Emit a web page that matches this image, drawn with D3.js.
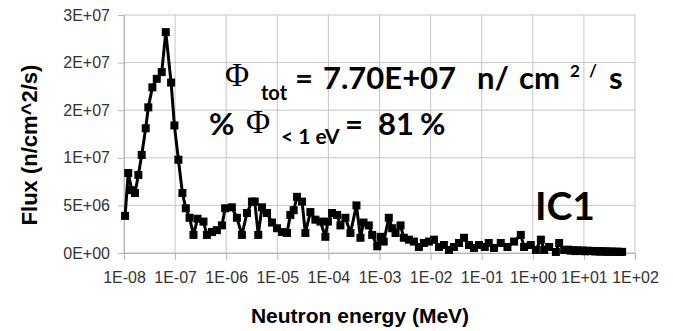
<!DOCTYPE html>
<html>
<head>
<meta charset="utf-8">
<script src="https://cdn.jsdelivr.net/npm/d3@7"></script>
<style>
  body { margin: 0; background: #fff; }
  svg { display: block; }
</style>
</head>
<body>
<div id="chart"></div>
<script>
// neutron spectrum, IC1 position
const energy = [
  1.05e-8, 1.21e-8, 1.42e-8, 1.64e-8, 1.91e-8, 2.22e-8, 2.66e-8, 2.99e-8, 3.59e-8, 4.38e-8,
  5.48e-8, 6.57e-8, 8.35e-8, 9.69e-8, 1.16e-7, 1.39e-7, 1.62e-7, 1.92e-7, 2.29e-7, 2.75e-7,
  3.59e-7, 4.19e-7, 5.25e-7, 6.57e-7, 8.24e-7, 9.56e-7, 1.29e-6, 1.62e-6, 2.03e-6, 2.55e-6,
  3.19e-6, 3.62e-6, 4.24e-6, 5.01e-6, 6.28e-6, 7.87e-6, 9.86e-6, 1.24e-5, 1.55e-5, 1.80e-5,
  2.09e-5, 2.43e-5, 3.05e-5, 3.54e-5, 4.44e-5, 5.56e-5, 6.97e-5, 8.73e-5, 9.78e-5, 1.18e-4,
  1.48e-4, 1.72e-4, 2.15e-4, 2.70e-4, 3.54e-4, 4.24e-4, 4.86e-4, 6.17e-4, 7.19e-4, 9.02e-4,
  1.05e-3, 1.21e-3, 1.52e-3, 1.77e-3, 2.06e-3, 2.58e-3, 2.99e-3, 3.76e-3, 4.71e-3, 5.90e-3,
  7.39e-3, 9.27e-3, 1.16e-2, 1.46e-2, 1.82e-2, 2.29e-2, 2.86e-2, 3.59e-2, 4.50e-2, 5.64e-2,
  7.06e-2, 8.85e-2, 1.15e-1, 1.37e-1, 1.74e-1, 2.36e-1, 3.19e-1, 4.30e-1, 5.82e-1, 6.75e-1,
  9.14e-1, 1.15, 1.44, 1.67, 2.09, 2.83, 3.28, 4.11,
  4.9, 5.5, 6.1, 6.8, 7.6, 8.5, 9.5, 10.6, 11.9, 13.3, 14.8, 16.6, 18.5, 20.7, 23.1, 25.8,
  28.8, 32.2, 36.0, 40.2, 45.0, 50.2, 56.0
];
const flux = [
  3.9e6, 8.4e6, 6.6e6, 6.3e6, 8.2e6, 1.03e7, 1.31e7, 1.53e7, 1.74e7, 1.83e7,
  1.90e7, 2.32e7, 1.79e7, 1.34e7, 9.8e6, 6.3e6, 4.7e6, 3.7e6, 1.9e6, 3.6e6,
  3.3e6, 1.9e6, 2.2e6, 2.4e6, 2.9e6, 4.7e6, 4.8e6, 3.7e6, 1.9e6, 4.2e6,
  5.4e6, 5.4e6, 1.9e6, 4.8e6, 4.2e6, 3.2e6, 2.6e6, 2.2e6, 2.1e6, 4.0e6,
  4.5e6, 5.9e6, 5.4e6, 2.1e6, 4.3e6, 3.5e6, 3.3e6, 1.7e6, 3.3e6, 4.2e6,
  4.0e6, 2.9e6, 3.7e6, 2.1e6, 5.0e6, 1.6e6, 3.2e6, 2.9e6, 1.9e6, 7.0e5,
  1.7e6, 1.2e6, 3.7e6, 2.6e6, 2.1e6, 2.9e6, 1.6e6, 1.4e6, 1.2e6, 6.3e5,
  1.05e6, 1.2e6, 1.4e6, 6.3e5, 8.4e5, 3.2e5, 6.3e5, 1.05e6, 1.6e6, 8.4e5,
  5.3e5, 8.4e5, 6.3e5, 1.05e6, 5.3e5, 1.05e6, 6.3e5, 1.2e6, 1.9e6, 6.3e5,
  8.4e5, 3.2e5, 1.4e6, 3.2e5, 6.3e5, 1.1e5, 1.05e6, 3.2e5,
  3.5e5, 2.5e5, 3.0e5, 2.0e5, 2.8e5, 2.2e5, 2.6e5, 1.8e5, 2.4e5, 2.0e5, 2.2e5, 1.6e5,
  2.0e5, 1.5e5, 1.8e5, 1.4e5, 1.6e5, 1.3e5, 1.5e5, 1.2e5, 1.4e5, 1.1e5, 1.2e5
];
const xTickValues = [1e-8, 1e-7, 1e-6, 1e-5, 1e-4, 1e-3, 1e-2, 1e-1, 1e0, 1e1, 1e2];
const xTickLabels = ["1E-08", "1E-07", "1E-06", "1E-05", "1E-04", "1E-03", "1E-02", "1E-01", "1E+00", "1E+01", "1E+02"];
const yTickValues = [0, 5e6, 1e7, 1.5e7, 2e7, 2.5e7];
const yTickLabels = ["0E+00", "5E+06", "1E+07", "2E+07", "2E+07", "3E+07"];

const width = 673, height = 331;
const margin = {top: 15, right: 38, bottom: 78, left: 124};

const svg = d3.select("#chart")
  .append("svg")
  .attr("width", width)
  .attr("height", height);

const x = d3.scaleLog()
  .domain([1e-8, 1e2])
  .range([margin.left, width - margin.right]);

const y = d3.scaleLinear()
  .domain([0, 2.5e7])
  .range([height - margin.bottom, margin.top]);

// grid
svg.append("g")
  .selectAll("line.v")
  .data(xTickValues)
  .enter()
  .append("line")
  .attr("x1", d => x(d)).attr("x2", d => x(d))
  .attr("y1", y(0)).attr("y2", y(2.5e7))
  .attr("stroke", "#c6c6c6");

svg.append("g")
  .selectAll("line.h")
  .data(yTickValues)
  .enter()
  .append("line")
  .attr("x1", x(1e-8)).attr("x2", x(1e2))
  .attr("y1", d => y(d)).attr("y2", d => y(d))
  .attr("stroke", "#c6c6c6");

// axes
const xAxis = svg.append("g")
  .attr("transform", "translate(0," + y(0) + ")")
  .call(d3.axisBottom(x)
    .tickValues(xTickValues)
    .tickFormat((d, i) => xTickLabels[i])
    .tickSize(7)
    .tickSizeOuter(0)
    .tickPadding(12));

const yAxis = svg.append("g")
  .attr("transform", "translate(" + x(1e-8) + ",0)")
  .call(d3.axisLeft(y)
    .tickValues(yTickValues)
    .tickFormat((d, i) => yTickLabels[i])
    .tickSize(6)
    .tickSizeOuter(0)
    .tickPadding(8));

[xAxis, yAxis].forEach(g => {
  g.select(".domain").attr("stroke", "#b4b4b4");
  g.selectAll(".tick line").attr("stroke", "#b4b4b4");
  g.selectAll(".tick text")
    .attr("fill", "#333")
    .style("font-family", "'Liberation Sans', Arial, sans-serif")
    .style("font-size", "16px");
});

// series
const pts = energy.map((e, i) => ({e: e, v: flux[i]}));

const line = d3.line()
  .x(d => x(d.e))
  .y(d => y(d.v));

svg.append("path")
  .datum(pts)
  .attr("fill", "none")
  .attr("stroke", "#000")
  .attr("stroke-width", 3)
  .attr("stroke-linejoin", "round")
  .attr("d", line);

svg.append("g")
  .selectAll("rect")
  .data(pts)
  .enter()
  .append("rect")
  .attr("x", d => x(d.e) - 4)
  .attr("y", d => y(d.v) - 4)
  .attr("width", 8)
  .attr("height", 8)
  .attr("fill", "#000");

// axis titles
svg.append("text")
  .attr("x", 360)
  .attr("y", 323)
  .attr("text-anchor", "middle")
  .style("font-family", "'Liberation Sans', Arial, sans-serif")
  .style("font-weight", "bold")
  .style("font-size", "21px")
  .text("Neutron energy (MeV)");

svg.append("text")
  .attr("transform", "translate(37,145) rotate(-90)")
  .attr("text-anchor", "middle")
  .style("font-family", "'Liberation Sans', Arial, sans-serif")
  .style("font-weight", "bold")
  .style("font-size", "22px")
  .text("Flux (n/cm^2/s)");

// annotations
const ann = svg.append("g").attr("fill", "#000");
function put(txt, px, py, size, serif) {
  ann.append("text")
    .attr("x", px)
    .attr("y", py)
    .style("font-family", serif ? "'Liberation Serif', 'DejaVu Serif', serif" : "Lato, 'Open Sans', sans-serif")
    .style("font-weight", serif ? "normal" : "bold")
    .style("font-size", size + "px")
    .text(txt);
}
put("\u03A6", 225, 86, 33, true);
put("tot", 261, 100, 20);
put("=", 295, 89, 31);
put("7.70E+07", 323, 89, 31);
put("n/", 477, 89, 31);
put("cm", 519, 89, 31);
put("2", 570, 77, 17);
put("/", 589, 77, 17);
put("s", 609, 89, 31);

put("%", 209, 135, 31);
put("\u03A6", 246, 133, 33, true);
put("< 1 eV", 281, 144, 21);
put("=", 345, 135, 31);
put("81", 378, 135, 31);
put("%", 420, 135, 31);

put("IC1", 535, 220, 39);
</script>
</body>
</html>
